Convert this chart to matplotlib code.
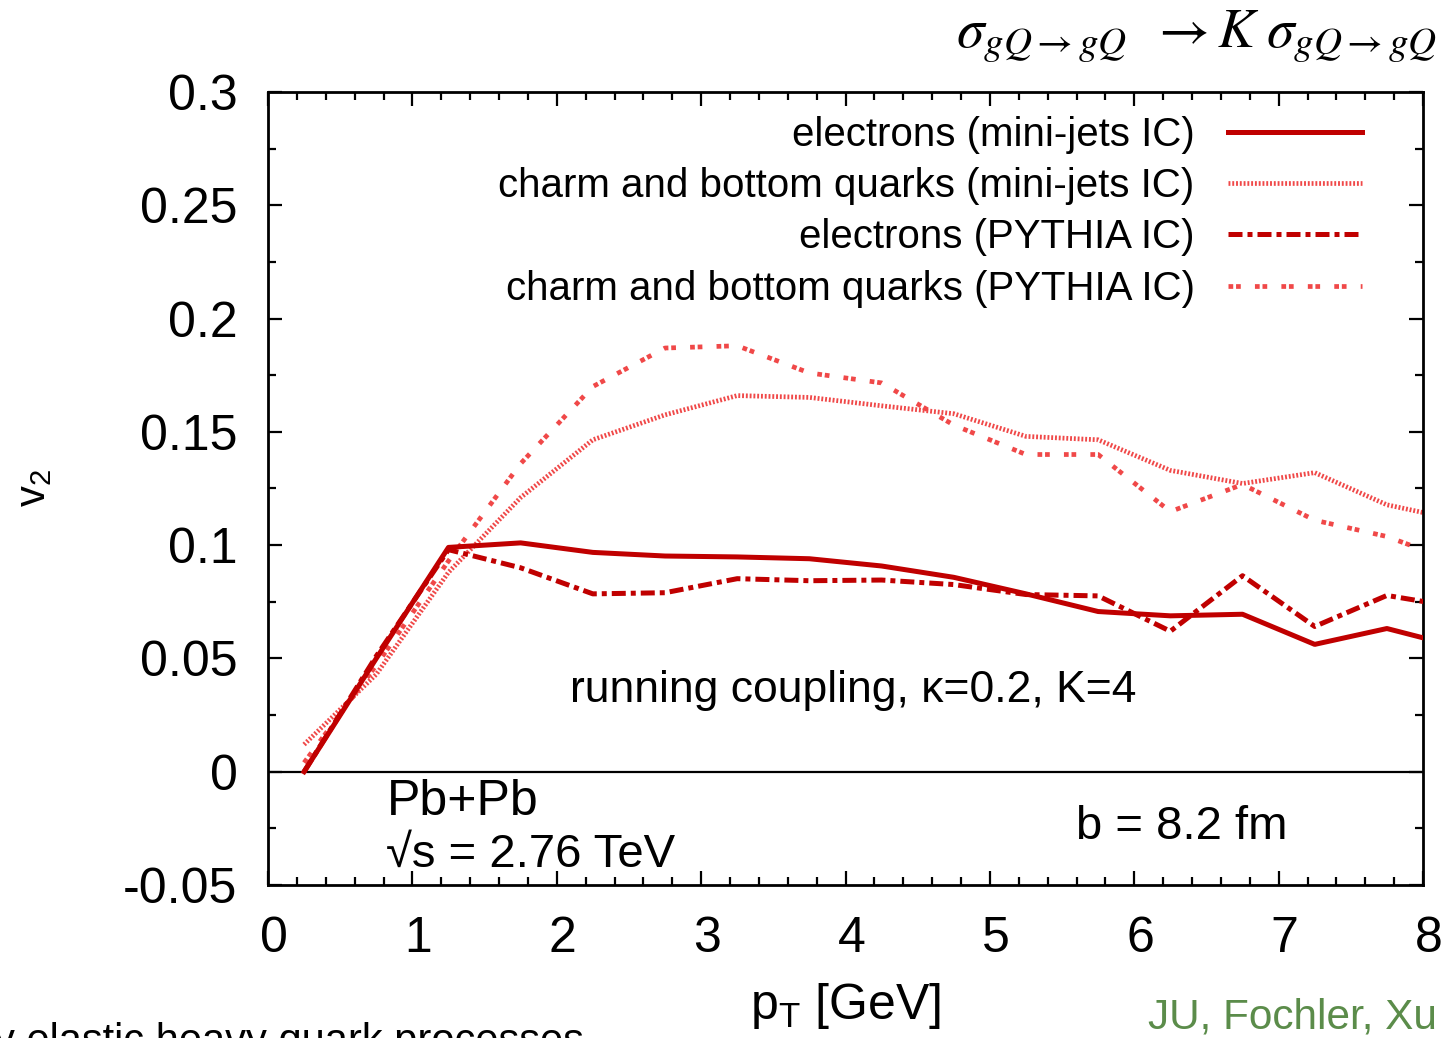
"""Heavy-flavour elliptic flow v2 vs pT (Pb+Pb, 2.76 TeV, b = 8.2 fm)."""

import matplotlib

matplotlib.use("Agg")
import matplotlib.pyplot as plt  # noqa: E402
from matplotlib.ticker import FixedLocator, MultipleLocator  # noqa: E402
from matplotlib.transforms import ScaledTranslation  # noqa: E402

plt.rcParams["font.family"] = ["Liberation Sans", "DejaVu Sans"]
plt.rcParams["mathtext.fontset"] = "custom"
plt.rcParams["mathtext.rm"] = "Liberation Sans"
plt.rcParams["mathtext.it"] = "Liberation Sans:italic"

# pT bin centres [GeV]
pt = [0.25, 0.75, 1.25, 1.75, 2.25, 2.75, 3.25, 3.75, 4.25,
      4.75, 5.25, 5.75, 6.25, 6.75, 7.25, 7.75, 8.25]

v2_e_minijet = [0.0, 0.050, 0.099, 0.101, 0.0968, 0.0952, 0.0948, 0.0940, 0.0908,
                0.0858, 0.0785, 0.0707, 0.0688, 0.0695, 0.0562, 0.0632, 0.055]
v2_q_minijet = [0.012, 0.043, 0.088, 0.121, 0.1465, 0.1575, 0.1660, 0.1652, 0.1615,
                0.1580, 0.1480, 0.1465, 0.1330, 0.1272, 0.1320, 0.1178, 0.1110]
v2_e_pythia = [0.0, 0.051, 0.098, 0.0900, 0.0785, 0.0790, 0.0852, 0.0843, 0.0846,
               0.0826, 0.0782, 0.0776, 0.0620, 0.0865, 0.0641, 0.0778, 0.0725]
v2_q_pythia = [0.004, 0.047, 0.093, 0.136, 0.170, 0.187, 0.1880, 0.1760, 0.1716,
               0.1530, 0.1400, 0.1400, 0.1148, 0.1268, 0.1110, 0.1038, 0.0920]

labels = [
    "electrons (mini-jets IC)",
    "charm and bottom quarks (mini-jets IC)",
    "electrons (PYTHIA IC)",
    "charm and bottom quarks (PYTHIA IC)",
]

y_ticks = [-0.05, 0.0, 0.05, 0.1, 0.15, 0.2, 0.25, 0.3]
y_tick_labels = ["-0.05", "0", "0.05", "0.1", "0.15", "0.2", "0.25", "0.3"]
x_ticks = [0, 1, 2, 3, 4, 5, 6, 7, 8]

DARK = "#c00000"
LIGHT = "#f04848"

fig = plt.figure(figsize=(14.41, 10.38), dpi=100)
ax = fig.add_axes([268 / 1441, 1 - 885 / 1038, 1155 / 1441, 793 / 1038])

ax.axhline(0, color="black", lw=1.6, zorder=1)
ax.plot(pt, v2_e_minijet, color=DARK, lw=3.6, label=labels[0], zorder=3)
ax.plot(pt, v2_q_minijet, color=LIGHT, lw=3.4, linestyle=(0, (0.4, 0.4)),
        label=labels[1], zorder=2)
ax.plot(pt, v2_e_pythia, color=DARK, lw=3.6, linestyle=(0, (2.8, 1.0, 1.0, 1.0)),
        label=labels[2], zorder=3)
ax.plot(pt, v2_q_pythia, color=LIGHT, lw=3.4, linestyle=(0, (1.0, 0.6, 1.0, 3.0)),
        label=labels[3], zorder=2)

ax.set_xlim(0, 8)
ax.set_ylim(-0.05, 0.3)
ax.xaxis.set_major_locator(FixedLocator(x_ticks))
ax.xaxis.set_minor_locator(MultipleLocator(0.2))
ax.yaxis.set_major_locator(FixedLocator(y_ticks))
ax.set_yticklabels(y_tick_labels)
ax.yaxis.set_minor_locator(MultipleLocator(0.025))
ax.tick_params(which="both", direction="in", top=True, right=True, width=1.6)
ax.tick_params(which="major", length=10, labelsize=36)
ax.tick_params(which="minor", length=6)
ax.tick_params(axis="y", which="major", pad=22)
ax.tick_params(axis="x", which="major", pad=22)
shift = ScaledTranslation(6 / 100, 0, fig.dpi_scale_trans)
for lab in ax.get_xticklabels():
    lab.set_transform(lab.get_transform() + shift)
for s in ax.spines.values():
    s.set_linewidth(2)

ax.set_xlabel(r"$\mathregular{p_T}$ [GeV]", fontsize=36, labelpad=14)
ax.set_ylabel(r"$\mathregular{v_2}$", fontsize=30, labelpad=50)

leg = ax.legend(loc="upper right", bbox_to_anchor=(0.947, 0.970), frameon=False,
                markerfirst=False, fontsize=29, handlelength=3.33,
                handletextpad=0.82, labelspacing=0.33, borderpad=0,
                borderaxespad=0)
for t in leg.get_texts():
    t.set_ha("right")

ax.text(4.05, 0.036, "running coupling, κ=0.2, K=4", fontsize=32,
        ha="center", va="center")
ax.text(0.82, -0.0135, "Pb+Pb", fontsize=36, ha="left", va="center")
ax.text(0.82, -0.0365, "√s = 2.76 TeV", fontsize=34, ha="left", va="center")
ax.text(5.6, -0.0245, "b = 8.2 fm", fontsize=34, ha="left", va="center")

fig.text(1437 / 1441, 1 - 37 / 1038,
         r"$\sigma_{gQ\rightarrow gQ}\;\;\rightarrow K\;\sigma_{gQ\rightarrow gQ}$",
         fontsize=40, ha="right", va="center", math_fontfamily="stix")
fig.text(-0.004, 1 - 1022 / 1038, "y elastic heavy quark processes", fontsize=30,
         ha="left", va="top")
fig.text(1437 / 1441, 1 - 998 / 1038, "JU, Fochler, Xu", fontsize=30.5,
         color="#5b8c4a", ha="right", va="top")

fig.savefig("out.png", dpi=100)
